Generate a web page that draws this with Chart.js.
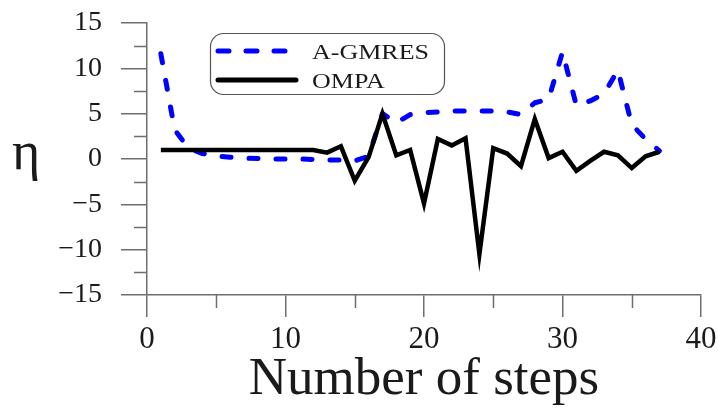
<!DOCTYPE html>
<html>
<head>
<meta charset="utf-8">
<script src="https://cdn.jsdelivr.net/npm/chart.js@4.4.1/dist/chart.umd.min.js"></script>
<style>
  html, body { margin: 0; padding: 0; background: #fff; }
</style>
</head>
<body>
<canvas id="etaChart" width="718" height="410"></canvas>
<script>
var steps = [1, 2, 3, 4, 5, 6, 7, 8, 9, 10, 11, 12, 13, 14, 15, 16, 17, 18, 19, 20, 21, 22, 23, 24, 25, 26, 27, 28, 29, 30, 31, 32, 33, 34, 35, 36, 37];
var gmres = [11.6, 3.2, 1.2, 0.6, 0.35, 0.2, 0.1, 0.05, 0.0, 0.0, 0.0, -0.05, -0.1, -0.1, -0.2, 0.3, 5.0, 4.0, 4.9, 5.1, 5.2, 5.3, 5.3, 5.3, 5.3, 5.2, 4.9, 6.2, 6.6, 11.8, 5.9, 6.4, 7.2, 9.8, 3.8, 2.2, 0.9];
var ompa = [1.0, 1.0, 1.0, 1.0, 1.0, 1.0, 1.0, 1.0, 1.0, 1.0, 1.0, 1.0, 0.7, 1.4, -2.4, 0.2, 5.0, 0.4, 1.0, -4.9, 2.2, 1.5, 2.3, -10.5, 1.2, 0.6, -0.8, 4.4, 0.1, 0.8, -1.3, -0.2, 0.8, 0.4, -1.0, 0.3, 0.8];
var seriesNames = ["A-GMRES", "OMPA"];
var yMinor = [-12.5, -7.5, -2.5, 2.5, 7.5, 12.5];
var xMinor = [5, 15, 25, 35];

(function () {
  var blue = "#0000ff",
    black = "#000000",
    axisCol = "#6e6e6e",
    textCol = "#1a1a1a",
    serif = "'Liberation Serif', 'Times New Roman', serif";

  function pts(ys) {
    return steps.map(function (s, i) {
      return { x: s, y: ys[i] };
    });
  }

  // short ticks between the labelled ones
  var minorTicks = {
    id: "minorTicks",
    afterDraw: function (chart) {
      var ctx = chart.ctx,
        xs = chart.scales.x,
        ys = chart.scales.y;
      ctx.save();
      ctx.strokeStyle = axisCol;
      ctx.lineWidth = 1.5;
      ctx.beginPath();
      yMinor.forEach(function (v) {
        var p = Math.round(ys.getPixelForValue(v)) + 0.5;
        ctx.moveTo(ys.right - 13, p);
        ctx.lineTo(ys.right, p);
      });
      xMinor.forEach(function (v) {
        var p = Math.round(xs.getPixelForValue(v)) + 0.5;
        ctx.moveTo(p, xs.top);
        ctx.lineTo(p, xs.top + 13);
      });
      ctx.stroke();
      ctx.restore();
    },
  };

  // eta label (upright) and the boxed legend inside the plot
  var extras = {
    id: "extras",
    afterDraw: function (chart) {
      var ctx = chart.ctx;
      ctx.save();
      ctx.fillStyle = textCol;
      ctx.font = "54px " + serif;
      ctx.textBaseline = "alphabetic";
      ctx.textAlign = "left";
      ctx.fillText("\u03b7", 12, 169);

      // legend box
      var bx = 210.5, by = 33.5, bw = 234, bh = 61, r = 13;
      ctx.beginPath();
      ctx.moveTo(bx + r, by);
      ctx.arcTo(bx + bw, by, bx + bw, by + bh, r);
      ctx.arcTo(bx + bw, by + bh, bx, by + bh, r);
      ctx.arcTo(bx, by + bh, bx, by, r);
      ctx.arcTo(bx, by, bx + bw, by, r);
      ctx.closePath();
      ctx.fillStyle = "#fff";
      ctx.fill();
      ctx.strokeStyle = "#555";
      ctx.lineWidth = 1.2;
      ctx.stroke();

      ctx.lineCap = "round";
      ctx.strokeStyle = blue;
      ctx.lineWidth = 5;
      ctx.setLineDash([11, 17]);
      ctx.beginPath();
      ctx.moveTo(218, 51);
      ctx.lineTo(288, 51);
      ctx.stroke();

      ctx.setLineDash([]);
      ctx.strokeStyle = black;
      ctx.lineWidth = 5;
      ctx.beginPath();
      ctx.moveTo(218, 80);
      ctx.lineTo(296, 80);
      ctx.stroke();

      ctx.fillStyle = textCol;
      ctx.font = "20px " + serif;
      [[seriesNames[0], 58.5], [seriesNames[1], 88]].forEach(function (t) {
        ctx.save();
        ctx.translate(312, t[1]);
        ctx.scale(1.3, 1);
        ctx.fillText(t[0], 0, 0);
        ctx.restore();
      });
      ctx.restore();
    },
  };

  function minus(v) {
    return String(v).replace("-", "\u2212");
  }

  new Chart(document.getElementById("etaChart"), {
    type: "line",
    data: {
      datasets: [
        {
          label: seriesNames[0],
          data: pts(gmres),
          borderColor: blue,
          borderWidth: 5,
          borderDash: [9, 18],
          borderCapStyle: "round",
          borderJoinStyle: "round",
          pointRadius: 0,
          fill: false,
          order: 2,
        },
        {
          label: seriesNames[1],
          data: pts(ompa),
          borderColor: black,
          borderWidth: 4.5,
          borderJoinStyle: "miter",
          pointRadius: 0,
          fill: false,
          order: 1,
        },
      ],
    },
    options: {
      responsive: false,
      animation: false,
      devicePixelRatio: 1,
      layout: { padding: { top: 23, right: 17, left: 0, bottom: 0 } },
      plugins: { legend: { display: false }, tooltip: { enabled: false } },
      scales: {
        x: {
          type: "linear",
          min: 0,
          max: 40,
          ticks: { stepSize: 10, color: textCol, padding: 4, font: { family: serif, size: 31 }, maxRotation: 0 },
          grid: { drawOnChartArea: false, drawTicks: true, tickLength: 22, color: axisCol, lineWidth: 1.5 },
          border: { display: true, color: axisCol, width: 1.5 },
          title: {
            display: true,
            text: "Number of steps",
            color: textCol,
            font: { family: serif, size: 53, lineHeight: 1.0 },
            padding: { top: 0, bottom: 3 },
          },
          afterFit: function (s) {
            s.height = 115;
            s.paddingLeft = 0;
            s.paddingRight = 0;
          },
        },
        y: {
          min: -15,
          max: 15,
          ticks: {
            stepSize: 5,
            color: textCol,
            padding: 19,
            font: { family: serif, size: 28 },
            callback: function (v) {
              return minus(v);
            },
          },
          grid: { drawOnChartArea: false, drawTicks: true, tickLength: 26, color: axisCol, lineWidth: 1.5 },
          border: { display: true, color: axisCol, width: 1.5 },
          afterFit: function (s) {
            s.width = 147;
            s.paddingTop = 0;
            s.paddingBottom = 0;
          },
        },
      },
    },
    plugins: [minorTicks, extras],
  });
})();
</script>
</body>
</html>
